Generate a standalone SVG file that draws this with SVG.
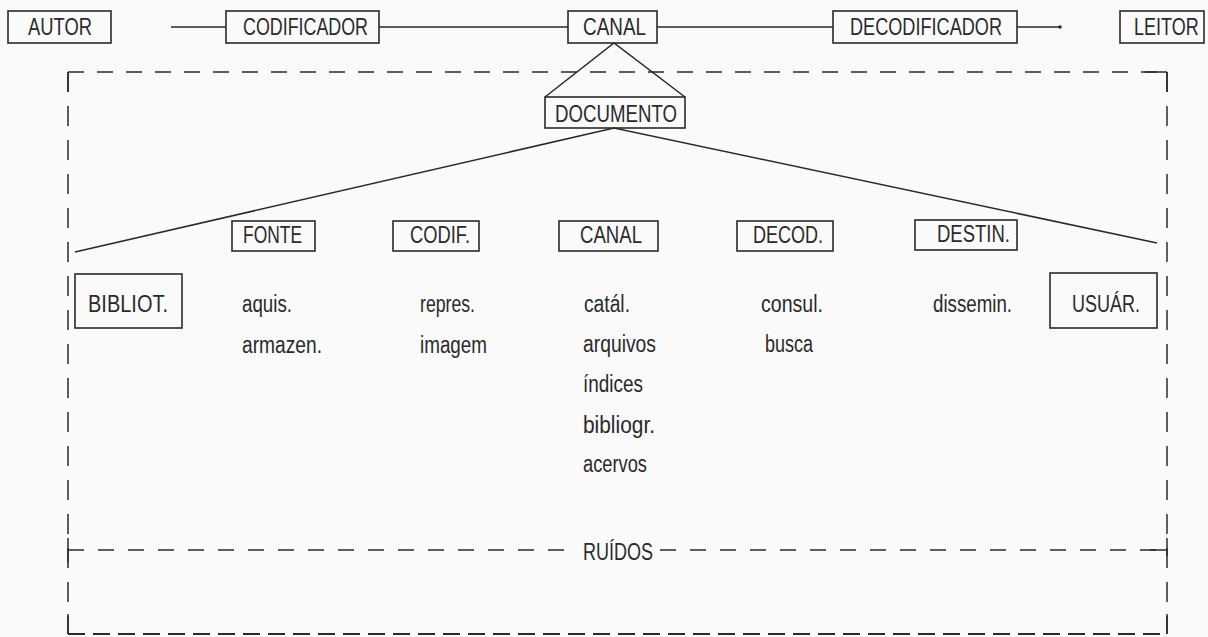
<svg xmlns="http://www.w3.org/2000/svg" width="1208" height="637" viewBox="0 0 1208 637">
<style>
.box{fill:none;stroke:#2a2a2a;stroke-width:1.6}
.ln{fill:none;stroke:#2a2a2a;stroke-width:1.5}
.dash{fill:none;stroke:#2a2a2a;stroke-width:1.5;stroke-dasharray:16 13}
.dashv{fill:none;stroke:#2a2a2a;stroke-width:1.5;stroke-dasharray:20 14}
.dashb{fill:none;stroke:#2a2a2a;stroke-width:1.8;stroke-dasharray:17 8}
text{font-family:"Liberation Sans",Arial,sans-serif;font-size:24px;fill:#2a2a2a}
.s{font-size:23px}
</style>
<rect width="1208" height="637" fill="#fafafa"/>
<g id="connectors">
<line class="ln" x1="171" y1="27" x2="226" y2="27"/>
<line class="ln" x1="379" y1="27" x2="568" y2="27"/>
<line class="ln" x1="657" y1="27" x2="833" y2="27"/>
<line class="ln" x1="1017" y1="27" x2="1060" y2="27"/>
<circle cx="1060" cy="27" r="1.8" fill="#2a2a2a"/>
<polyline class="ln" points="545,97 614,43 685,97"/>
<polyline class="ln" points="75,252 614,128 1157,243"/>
</g>
<g id="frame">
<line class="dash" x1="68" y1="72" x2="1167" y2="72"/>
<line class="dashv" x1="68" y1="72" x2="68" y2="634"/>
<line class="dashv" x1="1167" y1="72" x2="1167" y2="634"/>
<line class="ln" x1="68" y1="72" x2="68" y2="92"/>
<line class="ln" x1="1145" y1="72" x2="1167" y2="72"/>
<line class="ln" x1="1167" y1="72" x2="1167" y2="92"/>
<line class="dash" x1="68" y1="550" x2="574" y2="550" style="stroke-dasharray:16 14"/>
<line class="dash" x1="660" y1="550" x2="1167" y2="550" style="stroke-dasharray:16 14"/>
<line class="ln" x1="68" y1="538" x2="68" y2="562"/>
<line class="ln" x1="1150" y1="550" x2="1167" y2="550"/>
<line class="ln" x1="1167" y1="538" x2="1167" y2="556"/>
<line class="dashb" x1="68" y1="634" x2="1167" y2="634"/>
<line class="ln" x1="68" y1="614" x2="68" y2="634"/>
<line class="ln" x1="1167" y1="614" x2="1167" y2="634"/>
<text x="583" y="560" textLength="70" lengthAdjust="spacingAndGlyphs">RUÍDOS</text>
</g>
<g id="autor"><rect class="box" x="8" y="11" width="103" height="32"/><text x="28" y="35" textLength="64" lengthAdjust="spacingAndGlyphs">AUTOR</text></g>
<g id="codificador"><rect class="box" x="226" y="11" width="153" height="32"/><text x="243" y="35" textLength="125" lengthAdjust="spacingAndGlyphs">CODIFICADOR</text></g>
<g id="canal-top"><rect class="box" x="568" y="11" width="89" height="32"/><text x="583" y="35" textLength="63" lengthAdjust="spacingAndGlyphs">CANAL</text></g>
<g id="decodificador"><rect class="box" x="833" y="11" width="184" height="32"/><text x="850" y="35" textLength="152" lengthAdjust="spacingAndGlyphs">DECODIFICADOR</text></g>
<g id="leitor"><rect class="box" x="1120" y="11" width="84" height="32"/><text x="1512" y="35" transform="scale(0.75,1)">LEITOR</text></g>
<g id="documento"><rect class="box" x="545" y="97" width="140" height="31"/><text x="555" y="122" textLength="122" lengthAdjust="spacingAndGlyphs">DOCUMENTO</text></g>
<g id="fonte"><rect class="box" x="232" y="221" width="83" height="30"/><text x="243" y="243" textLength="59" lengthAdjust="spacingAndGlyphs">FONTE</text></g>
<g id="codif"><rect class="box" x="393" y="221" width="86" height="30"/><text x="410" y="243" textLength="60" lengthAdjust="spacingAndGlyphs">CODIF.</text></g>
<g id="canal"><rect class="box" x="559" y="221" width="99" height="30"/><text x="580" y="243" textLength="62" lengthAdjust="spacingAndGlyphs">CANAL</text></g>
<g id="decod"><rect class="box" x="737" y="221" width="96" height="30"/><text x="753" y="243" textLength="70" lengthAdjust="spacingAndGlyphs">DECOD.</text></g>
<g id="destin"><rect class="box" x="915" y="220" width="102" height="30"/><text x="937" y="242" textLength="73" lengthAdjust="spacingAndGlyphs">DESTIN.</text></g>
<g id="bibliot"><rect class="box" x="75" y="274" width="107" height="54"/><text x="88" y="312" textLength="80" lengthAdjust="spacingAndGlyphs">BIBLIOT.</text></g>
<g id="usuar"><rect class="box" x="1050" y="273" width="107" height="55"/><text x="1072" y="312" textLength="68" lengthAdjust="spacingAndGlyphs">USUÁR.</text></g>
<g id="lists">
<text class="s" x="242" y="312" textLength="50" lengthAdjust="spacingAndGlyphs">aquis.</text>
<text class="s" x="242" y="353" textLength="80" lengthAdjust="spacingAndGlyphs">armazen.</text>
<text class="s" x="420" y="312" textLength="55" lengthAdjust="spacingAndGlyphs">repres.</text>
<text class="s" x="420" y="353" textLength="67" lengthAdjust="spacingAndGlyphs">imagem</text>
<text class="s" x="584" y="312" textLength="46" lengthAdjust="spacingAndGlyphs">catál.</text>
<text class="s" x="583" y="352" textLength="73" lengthAdjust="spacingAndGlyphs">arquivos</text>
<text class="s" x="583" y="392" textLength="60" lengthAdjust="spacingAndGlyphs">índices</text>
<text class="s" x="583" y="433" textLength="72" lengthAdjust="spacingAndGlyphs">bibliogr.</text>
<text class="s" x="583" y="472" textLength="64" lengthAdjust="spacingAndGlyphs">acervos</text>
<text class="s" x="761" y="312" textLength="62" lengthAdjust="spacingAndGlyphs">consul.</text>
<text class="s" x="765" y="352" textLength="48" lengthAdjust="spacingAndGlyphs">busca</text>
<text class="s" x="933" y="312" textLength="79" lengthAdjust="spacingAndGlyphs">dissemin.</text>
</g>
</svg>
